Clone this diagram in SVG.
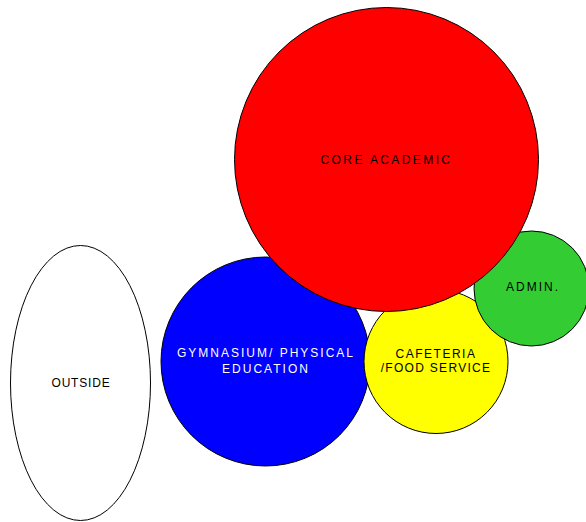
<svg xmlns="http://www.w3.org/2000/svg" width="586" height="522" viewBox="0 0 586 522">
  <style>
    .zone { stroke: #000; stroke-width: 1; }
    .lbl { font-family: "Liberation Sans", Arial, sans-serif; font-size: 12px; letter-spacing: 2px; text-anchor: middle; fill: #000; }
    .lbl.light { fill: #fff; }
  </style>
  <rect width="586" height="522" fill="#fff"/>
  <g id="outside">
    <ellipse class="zone" cx="80.5" cy="383" rx="70" ry="137.5" fill="#fff"/>
    <text class="lbl" x="81" y="387" style="letter-spacing:0.8px">OUTSIDE</text>
  </g>
  <g id="gymnasium">
    <circle class="zone" cx="265.5" cy="361.5" r="104.5" fill="#0000ff"/>
    <text class="lbl light" x="266" y="357">GYMNASIUM/ PHYSICAL</text>
    <text class="lbl light" x="266" y="373">EDUCATION</text>
  </g>
  <g id="cafeteria">
    <circle class="zone" cx="436" cy="361.5" r="72" fill="#ffff00"/>
    <text class="lbl" x="436" y="358" style="letter-spacing:1.5px">CAFETERIA</text>
    <text class="lbl" x="436" y="372" style="letter-spacing:1.3px">/FOOD SERVICE</text>
  </g>
  <g id="admin">
    <circle class="zone" cx="531.5" cy="288.5" r="57.5" fill="#33cc33"/>
    <text class="lbl" x="533" y="291">ADMIN.</text>
  </g>
  <g id="core-academic">
    <circle class="zone" cx="386.5" cy="159.5" r="152" fill="#ff0000"/>
    <text class="lbl" x="386.5" y="164" style="letter-spacing:2.4px">CORE ACADEMIC</text>
  </g>
  <g id="connectors"></g>
</svg>
